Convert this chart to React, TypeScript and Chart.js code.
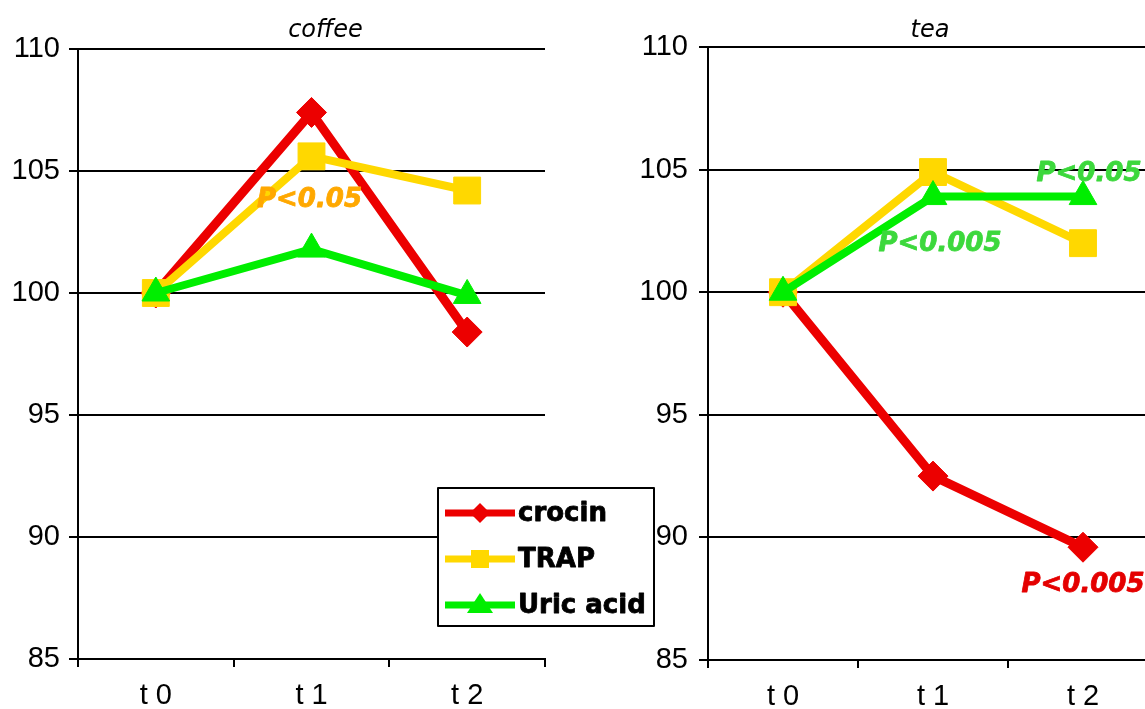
import React, { useEffect, useRef } from 'react';
import { Chart, registerables } from 'chart.js';

Chart.register(...registerables);

// ---------- data ----------
const categories = ['t 0', 't 1', 't 2'];
const seriesNames = ['crocin', 'TRAP', 'Uric acid'];
const panelTitles = ['coffee', 'tea'];
const yTicks = [85, 90, 95, 100, 105, 110];

const coffeeCrocin = [100, 107.4, 98.4];
const coffeeTrap = [100, 105.6, 104.2];
const coffeeUric = [100, 101.8, 99.9];

const teaCrocin = [100, 92.5, 89.6];
const teaTrap = [100, 104.9, 102.0];
const teaUric = [100, 103.9, 103.9];

// significance notes: text, series index, category index
const coffeeNoteTexts = ['P<0.05'];
const coffeeNoteSeries = [1];
const coffeeNoteIndex = [1];
const teaNoteTexts = ['P<0.005', 'P<0.05', 'P<0.005'];
const teaNoteSeries = [2, 2, 0];
const teaNoteIndex = [1, 2, 2];

// ---------- styles ----------
const seriesColors = ['#EC0000', '#FFD800', '#00EE00'];
const noteColorsBySeries = ['#E40000', '#FFA800', '#3CD83C'];
const pointStyles = ['rectRot', 'rect', 'triangle'];
const pointRadii = [15, 19, 16];
const lineWidths = [9, 8, 8];
const drawOrder = [2, 1, 0];
// offsets for notes (dx, dy from the data point), per note
const coffeeNoteOffsets = [[-2, 51]];
const teaNoteOffsets = [[7, 54], [6, -16], [0, 45]];

const FONT = 'Liberation Sans';

type Note = { text: string; series: number; index: number; dx: number; dy: number };

function buildNotes(texts: string[], series: number[], idx: number[], offs: number[][]): Note[] {
  return texts.map((t, i) => ({ text: t, series: series[i], index: idx[i], dx: offs[i][0], dy: offs[i][1] }));
}

function drawMarker(ctx: CanvasRenderingContext2D, kind: number, cx: number, cy: number) {
  ctx.fillStyle = seriesColors[kind];
  ctx.beginPath();
  if (kind === 0) {
    const r = 10;
    ctx.moveTo(cx, cy - r);
    ctx.lineTo(cx + r, cy);
    ctx.lineTo(cx, cy + r);
    ctx.lineTo(cx - r, cy);
  } else if (kind === 1) {
    ctx.rect(cx - 9, cy - 9, 18, 18);
  } else {
    ctx.moveTo(cx, cy - 12);
    ctx.lineTo(cx + 13, cy + 8);
    ctx.lineTo(cx - 13, cy + 8);
  }
  ctx.closePath();
  ctx.fill();
}

function heavyText(ctx: CanvasRenderingContext2D, text: string, x: number, y: number, color: string) {
  ctx.fillStyle = color;
  ctx.strokeStyle = color;
  ctx.lineWidth = 0.8;
  ctx.lineJoin = 'round';
  ctx.strokeText(text, x, y);
  ctx.fillText(text, x, y);
}

function makeConfig(
  title: string,
  titleDx: number,
  series: number[][],
  notes: Note[],
  withLegend: boolean,
  padRight: number,
  padTop: number,
  xHeight: number,
  yPad: number
): any {
  const panelPlugin = {
    id: 'panelDecor',
    afterDatasetsDraw(chart: any) {
      const ctx: CanvasRenderingContext2D = chart.ctx;
      const area = chart.chartArea;
      const xs = chart.scales.x;
      const ys = chart.scales.y;
      ctx.save();
      // title
      ctx.fillStyle = '#000';
      ctx.font = 'oblique 24px "DejaVu Sans"';
      ctx.textAlign = 'center';
      ctx.textBaseline = 'alphabetic';
      ctx.fillText(title, (area.left + area.right) / 2 + titleDx, 37);
      // notes
      ctx.font = 'oblique bold 26px "DejaVu Sans"';
      notes.forEach((n) => {
        const px = xs.getPixelForValue(n.index);
        const py = ys.getPixelForValue(series[n.series][n.index]);
        heavyText(ctx, n.text, px + n.dx, py + n.dy, noteColorsBySeries[n.series]);
      });
      // legend
      if (withLegend) {
        const bx = 438, by = 488, bw = 216, bh = 138;
        ctx.fillStyle = '#fff';
        ctx.fillRect(bx, by, bw, bh);
        ctx.strokeStyle = '#000';
        ctx.lineWidth = 2;
        ctx.strokeRect(bx, by, bw, bh);
        ctx.font = 'bold 26px "DejaVu Sans"';
        ctx.textAlign = 'left';
        ctx.textBaseline = 'middle';
        seriesNames.forEach((name, i) => {
          const cy = by + 25 + i * 46;
          ctx.strokeStyle = seriesColors[i];
          ctx.lineWidth = 7;
          ctx.beginPath();
          ctx.moveTo(bx + 7, cy);
          ctx.lineTo(bx + 77, cy);
          ctx.stroke();
          drawMarker(ctx, i, bx + 42, cy);
          heavyText(ctx, name, bx + 80, cy + 1, '#000');
        });
      }
      ctx.restore();
    },
  };

  return {
    type: 'line',
    data: {
      labels: categories,
      datasets: series.map((vals, i) => ({
        label: seriesNames[i],
        data: vals,
        borderColor: seriesColors[i],
        backgroundColor: seriesColors[i],
        borderWidth: lineWidths[i],
        pointStyle: pointStyles[i],
        pointRadius: pointRadii[i],
        pointBorderWidth: 1,
        pointBackgroundColor: seriesColors[i],
        pointBorderColor: seriesColors[i],
        tension: 0,
        fill: false,
        clip: false,
        order: drawOrder[i],
      })),
    },
    options: {
      responsive: false,
      animation: false,
      events: [],
      layout: { padding: { top: padTop, right: padRight, bottom: 0, left: 0 } },
      plugins: {
        legend: { display: false },
        tooltip: { enabled: false },
        title: { display: false },
      },
      scales: {
        x: {
          type: 'category',
          offset: true,
          grid: {
            display: true,
            drawOnChartArea: false,
            drawTicks: true,
            tickLength: 8,
            color: '#000',
            lineWidth: 2,
            offset: true,
          },
          border: { display: true, color: '#000', width: 2 },
          ticks: {
            color: '#000',
            font: { family: FONT, size: 29 },
            padding: 12,
            maxRotation: 0,
            autoSkip: false,
          },
          afterFit: (s: any) => {
            s.height = xHeight;
          },
        },
        y: {
          min: 85,
          max: 110,
          afterBuildTicks: (s: any) => {
            s.ticks = yTicks.map((v) => ({ value: v }));
          },
          grid: { color: '#000', lineWidth: 2, drawTicks: true, tickLength: 9 },
          border: { display: true, color: '#000', width: 2 },
          ticks: {
            color: '#000',
            font: { family: FONT, size: 29 },
            padding: yPad,
          },
          afterFit: (s: any) => {
            s.width = 78;
          },
        },
      },
    },
    plugins: [panelPlugin],
  };
}

function Panel(props: { left: number; width: number; config: any }) {
  const ref = useRef<HTMLCanvasElement | null>(null);
  useEffect(() => {
    if (!ref.current) return;
    const chart = new Chart(ref.current, props.config);
    return () => chart.destroy();
  }, []);
  return (
    <canvas
      ref={ref}
      width={props.width}
      height={709}
      style={{ position: 'absolute', left: props.left, top: 0, width: props.width, height: 709 }}
    />
  );
}

export default function App() {
  const coffeeNotes = buildNotes(coffeeNoteTexts, coffeeNoteSeries, coffeeNoteIndex, coffeeNoteOffsets);
  const teaNotes = buildNotes(teaNoteTexts, teaNoteSeries, teaNoteIndex, teaNoteOffsets);
  const coffeeCfg = makeConfig(
    panelTitles[0],
    14,
    [coffeeCrocin, coffeeTrap, coffeeUric],
    coffeeNotes,
    true,
    115,
    49,
    50,
    9
  );
  const teaCfg = makeConfig(
    panelTitles[1],
    -3,
    [teaCrocin, teaTrap, teaUric],
    teaNotes,
    false,
    3,
    47,
    49,
    11
  );
  return (
    <div
      style={{
        position: 'absolute',
        left: 0,
        top: 0,
        width: 1145,
        height: 709,
        overflow: 'hidden',
        background: '#fff',
      }}
    >
      <Panel left={0} width={660} config={coffeeCfg} />
      <Panel left={630} width={548} config={teaCfg} />
    </div>
  );
}
